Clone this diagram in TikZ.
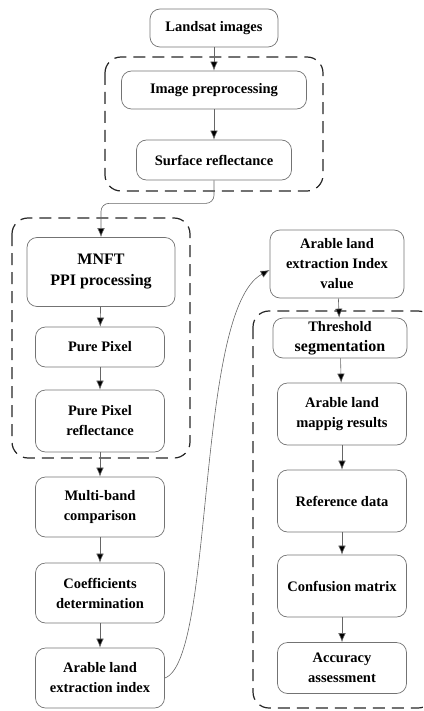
\documentclass[tikz,border=0pt]{standalone}
\usepackage{fontspec}
\setmainfont{Liberation Serif}
\usetikzlibrary{arrows.meta}
\begin{document}
\begin{tikzpicture}[x=1pt,y=-1pt,
 box/.style={draw=black!55, line width=0.7pt, rounded corners=10pt, align=center, font=\bfseries\fontsize{14.5}{20}\selectfont, inner sep=0pt},
 grp/.style={draw=black!85, line width=1.2pt, dash pattern=on 12pt off 7pt, rounded corners=16pt},
 arr/.style={draw=black!60, line width=0.6pt, -{Latex[length=9pt,width=7.5pt,fill=black]}}]
\useasboundingbox (0,0) rectangle (423,711);
\clip (0,0) rectangle (423,711);
% groups
\draw[grp] (105,57) rectangle (323,191);
\draw[grp] (12,218) rectangle (190,458);
\draw[grp] (253,311) rectangle (434,708);
% nodes
\node[box, minimum width=128pt, minimum height=38pt] (n1) at (214,28) {Landsat images};
\node[box, minimum width=185pt, minimum height=38pt] (n2) at (214,90) {Image preprocessing};
\node[box, minimum width=155pt, minimum height=40pt] (n3) at (214,160) {Surface reflectance};
\node[box, minimum width=148pt, minimum height=69pt, font=\bfseries\fontsize{16}{21}\selectfont] (n4) at (101,272) {MNFT\\PPI processing};
\node[box, minimum width=129pt, minimum height=40pt] (n5) at (100,347) {Pure Pixel};
\node[box, minimum width=129pt, minimum height=62pt] (n6) at (100,421) {Pure Pixel\\reflectance};
\node[box, minimum width=129pt, minimum height=60pt] (n7) at (100,507) {Multi-band\\comparison};
\node[box, minimum width=129pt, minimum height=60pt] (n8) at (100,593) {Coefficients\\determination};
\node[box, minimum width=129pt, minimum height=60pt] (n9) at (100,678) {Arable land\\extraction index};
\node[box, minimum width=134pt, minimum height=68pt] (n10) at (337,264) {Arable land\\extraction Index\\value};
\node[box, minimum width=134pt, minimum height=40pt] (n11) at (340,338) {Threshold\\{\fontsize{16}{20}\selectfont segmentation}};
\node[box, minimum width=129pt, minimum height=62pt] (n12) at (342,414) {Arable land\\mappig results};
\node[box, minimum width=129pt, minimum height=62pt] (n13) at (342,501) {Reference data};
\node[box, minimum width=129pt, minimum height=62pt] (n14) at (342,586) {Confusion matrix};
\node[box, minimum width=129pt, minimum height=51pt] (n15) at (342,668) {Accuracy\\assessment};
% connectors
\draw[arr] (n1) -- (n2);
\draw[arr] (n2) -- (n3);
\draw[arr, rounded corners=8pt] (n3.south) -- ++(0,23) -| (n4.north);
\draw[arr] (n4) -- (n5);
\draw[arr] (n5) -- (n6);
\draw[arr] (n6) -- (n7);
\draw[arr] (n7) -- (n8);
\draw[arr] (n8) -- (n9);
\draw[arr] (n9.east) .. controls (215,660) and (195,310) .. ([yshift=-6pt]n10.west);
\draw[arr] (n10) -- (n11);
\draw[arr] (n11) -- (n12);
\draw[arr] (n12) -- (n13);
\draw[arr] (n13) -- (n14);
\draw[arr] (n14) -- (n15);
\end{tikzpicture}
\end{document}
